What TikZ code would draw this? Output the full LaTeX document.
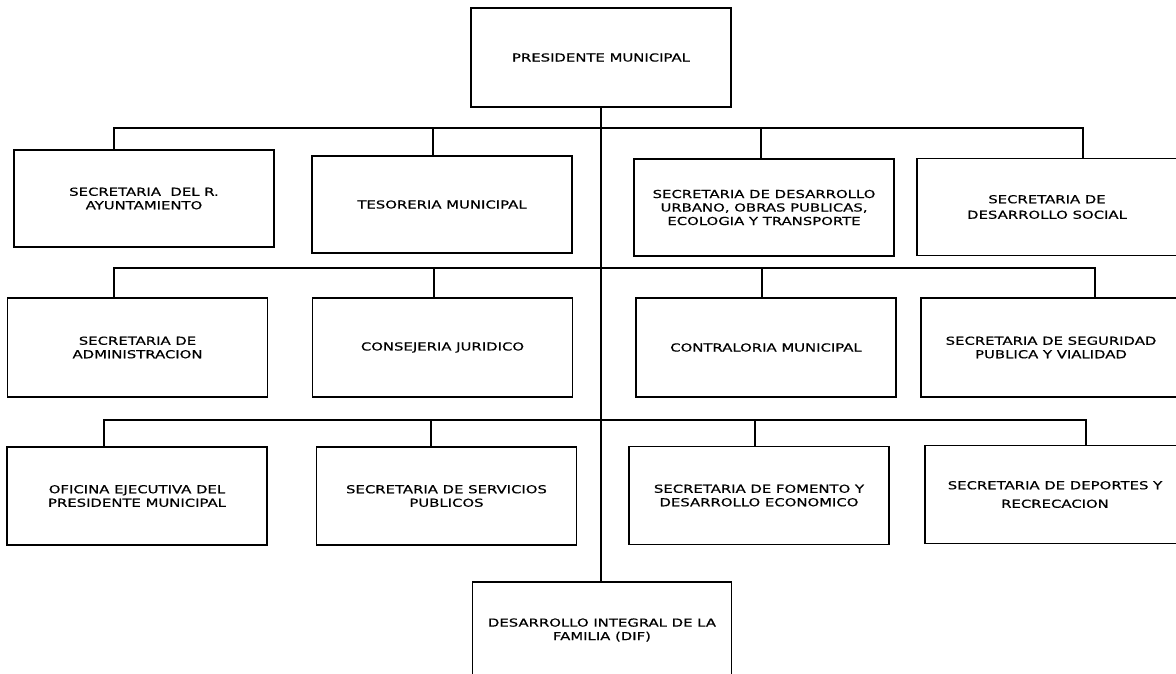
\documentclass[tikz,border=0pt]{standalone}
\usepackage{fontspec}
\setmainfont[FakeStretch=1.35,FakeBold=0.5]{DejaVu Sans}
\usetikzlibrary{arrows}

\begin{document}
\begin{tikzpicture}[x=1pt,y=-1pt]
	\tikzstyle{unit}=[rectangle,draw,line width=1.2pt,align=center,inner sep=2pt,minimum width=260pt,minimum height=97pt,font=\fontsize{11}{13.5}\selectfont]
	\tikzstyle{every path}=[line width=1.1pt]
	\useasboundingbox (0,0) rectangle (1176,673);

	\node[unit,minimum height=99pt](pres) at (601,57.5) {PRESIDENTE MUNICIPAL};
	% first row
	\node[unit](ayun) at (144,198.5) {SECRETARIA\ \ DEL R.\\AYUNTAMIENTO};
	\node[unit](teso) at (442,204.5) {TESORERIA MUNICIPAL};
	\node[unit](urb) at (764,207.5) {SECRETARIA DE DESARROLLO\\URBANO, OBRAS PUBLICAS,\\ECOLOGIA Y TRANSPORTE};
	\node[unit](soc) at (1047,207) {SECRETARIA DE\\[2pt]DESARROLLO SOCIAL};
	% second row
	\node[unit,minimum height=99pt](adm) at (137.5,347.5) {SECRETARIA DE\\ADMINISTRACION};
	\node[unit,minimum height=99pt](cons) at (442.5,347.5) {CONSEJERIA JURIDICO};
	\node[unit,minimum height=99pt](contra) at (766,347.5) {CONTRALORIA MUNICIPAL};
	\node[unit,minimum height=99pt](seg) at (1051,347.5) {SECRETARIA DE SEGURIDAD\\PUBLICA Y VIALIDAD};
	% third row
	\node[unit,minimum height=98pt](ofi) at (137,496) {OFICINA EJECUTIVA DEL\\PRESIDENTE MUNICIPAL};
	\node[unit,minimum height=98pt](serv) at (446.5,496) {SECRETARIA DE SERVICIOS\\PUBLICOS};
	\node[unit,minimum height=98pt](fom) at (759,495.5) {SECRETARIA DE FOMENTO Y\\DESARROLLO ECONOMICO};
	\node[unit,minimum height=98pt](dep) at (1055,494.5) {SECRETARIA DE DEPORTES Y\\[5pt]RECRECACION};
	\node[unit,minimum width=259pt,minimum height=96pt](dif) at (602,630) {DESARROLLO INTEGRAL DE LA\\FAMILIA (DIF)};

	\coordinate (bar1) at (601,128);
	\coordinate (bar2) at (601,268);
	\coordinate (bar3) at (601,420);

	\draw (pres.south) -- (pres.south |- dif.north);

	\draw ([xshift=-30pt]ayun.north) |- (bar1) -| ([xshift=36pt]soc.north);
	\draw ([xshift=-9pt]teso.north) |- (bar1);
	\draw ([xshift=-3pt]urb.north) |- (bar1);

	\draw ([xshift=-23.5pt]adm.north) |- (bar2) -| ([xshift=44pt]seg.north);
	\draw ([xshift=-8.5pt]cons.north) |- (bar2);
	\draw ([xshift=-4pt]contra.north) |- (bar2);

	\draw ([xshift=-33pt]ofi.north) |- (bar3) -| ([xshift=31pt]dep.north);
	\draw ([xshift=-15.5pt]serv.north) |- (bar3);
	\draw ([xshift=-4pt]fom.north) |- (bar3);
\end{tikzpicture}
\end{document}
